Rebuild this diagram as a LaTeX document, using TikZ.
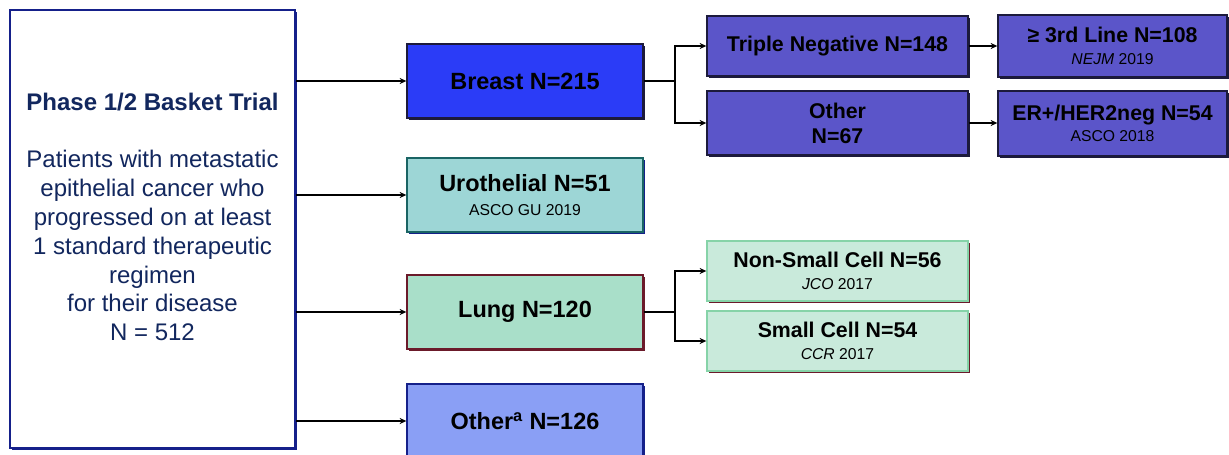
\documentclass[tikz,border=0pt]{standalone}
\usepackage{fontspec}
\setmainfont{Liberation Sans}
\usetikzlibrary{arrows.meta}
\definecolor{navy}{HTML}{15208A}
\definecolor{navytext}{HTML}{12275E}
\definecolor{breastfill}{HTML}{2B3CF7}
\definecolor{darkedge}{HTML}{1C1A3C}
\definecolor{urofill}{HTML}{9DD6D6}
\definecolor{uroedge}{HTML}{1A6464}
\definecolor{lungfill}{HTML}{A9DFC9}
\definecolor{maroon}{HTML}{6B1A2A}
\definecolor{otherfill}{HTML}{8A9FF5}
\definecolor{subfill}{HTML}{5B55C9}
\definecolor{lsubfill}{HTML}{C9EADB}
\definecolor{lsubedge}{HTML}{86D3A8}
\tikzset{
  box/.style={rectangle, inner sep=0pt, align=center, text=black, line width=1pt},
  shad/.style={preaction={fill=#1, transform canvas={shift={(1.6pt,-1.6pt)}}}},
  line/.style={line width=1.4pt, black},
  arr/.style={line width=1.4pt, black, -{Stealth[length=5pt,width=4.5pt]}},
  big/.style={font=\fontsize{17.6}{20}\selectfont\bfseries},
  mid/.style={font=\fontsize{16}{18}\selectfont\bfseries},
}
\newcommand{\smalltxt}{\fontsize{11.8}{13}\selectfont\mdseries}
\begin{document}
\begin{tikzpicture}[x=0.75pt,y=-0.75pt]
\useasboundingbox[fill=white] (0,0) rectangle (1229,454);
% left box
\node[box, draw=navy, fill=white, line width=1.6pt, shad=navy, minimum width=213.75pt, minimum height=328.5pt] (trial) at (152.5,229) {};
\node[align=center, inner sep=0pt, text=navytext, font=\fontsize{18}{21.6}\selectfont] (trialtext) at (152.5,217)
  {{\bfseries Phase 1/2 Basket Trial}\\[21.6pt]
   Patients with metastatic\\epithelial cancer who\\progressed on at least\\1 standard therapeutic\\regimen\\for their disease\\N = 512};
% first column
\node[box, draw=darkedge, fill=breastfill, shad=darkedge, minimum width=177pt, minimum height=55.5pt, big] (breast) at (525,81) {Breast N=215};
\node[box, draw=uroedge, fill=urofill, shad=navy, minimum width=177pt, minimum height=55.5pt, big] (uro) at (525,195)
  {Urothelial N=51\\[-2pt]{\smalltxt ASCO GU 2019}};
\node[box, draw=maroon, fill=lungfill, shad=maroon, minimum width=177pt, minimum height=55.5pt, big] (lung) at (525,312) {Lung N=120};
\node[box, draw=navy, fill=otherfill, shad=navy, minimum width=177pt, minimum height=55.5pt, big] (other) at (525,421)
  {Other\textsuperscript{a} N=126};
% breast subgroups
\node[box, draw=darkedge, fill=subfill, shad=darkedge, minimum width=195.75pt, minimum height=45pt, mid] (tn) at (837.5,46) {Triple Negative N=148};
\node[box, draw=darkedge, fill=subfill, shad=darkedge, minimum width=195.75pt, minimum height=48pt,
      font=\fontsize{16}{18.75}\selectfont\bfseries] (o67) at (837.5,123) {Other\\N=67};
\node[box, draw=darkedge, fill=subfill, shad=darkedge, minimum width=171.75pt, minimum height=46.5pt, mid] (third) at (1112.5,46)
  {≥ 3rd Line N=108\\[-2pt]{\smalltxt\itshape NEJM\upshape{} 2019}};
\node[box, draw=darkedge, fill=subfill, shad=darkedge, minimum width=171.75pt, minimum height=48.75pt, mid] (er) at (1112.5,123.5)
  {ER+/HER2neg N=54\\[-2pt]{\smalltxt ASCO 2018}};
% lung subgroups
\node[box, draw=lsubedge, fill=lsubfill, shad=maroon, minimum width=195.75pt, minimum height=45pt, mid] (nsclc) at (837.5,271)
  {Non-Small Cell N=56\\[-2pt]{\smalltxt\itshape JCO\upshape{} 2017}};
\node[box, draw=lsubedge, fill=lsubfill, shad=maroon, minimum width=195.75pt, minimum height=45pt, mid] (sclc) at (837.5,341)
  {Small Cell N=54\\[-2pt]{\smalltxt\itshape CCR\upshape{} 2017}};
% connectors from trial box
\draw[arr] (trial.east |- breast) -- (breast.west);
\draw[arr] (trial.east |- uro) -- (uro.west);
\draw[arr] (trial.east |- lung) -- (lung.west);
\draw[arr] (trial.east |- other) -- (other.west);
% breast split
\coordinate (bj) at (675,81);
\draw[line] (breast.east) -- (bj);
\draw[arr] (bj) |- (tn.west);
\draw[arr] (bj) |- (o67.west);
\draw[arr] (tn.east) -- (third.west |- tn.east);
\draw[arr] (o67.east) -- (er.west |- o67.east);
% lung split
\coordinate (lj) at (675,312);
\draw[line] (lung.east) -- (lj);
\draw[arr] (lj) |- (nsclc.west);
\draw[arr] (lj) |- (sclc.west);
\end{tikzpicture}
\end{document}
